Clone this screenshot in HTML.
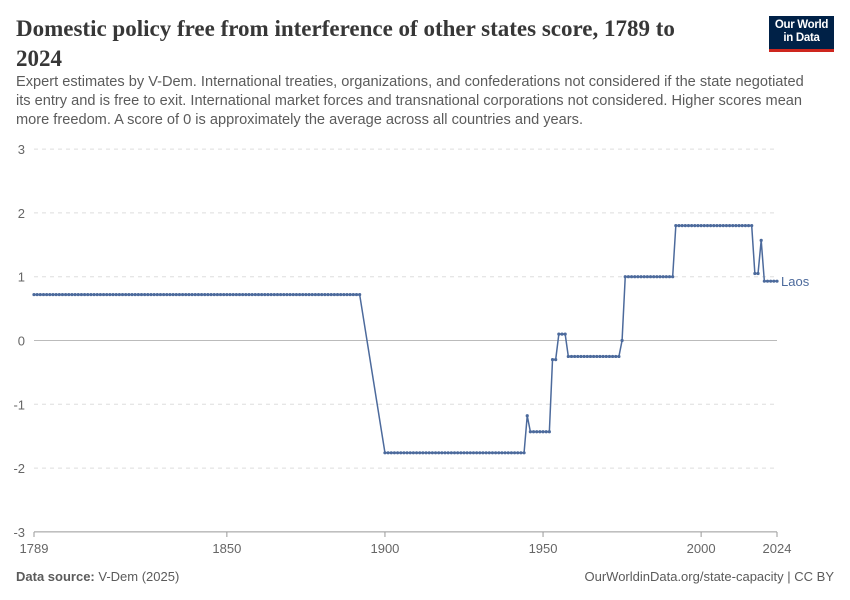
<!DOCTYPE html>
<html><head><meta charset="utf-8"><style>
body{margin:0;background:#fff;width:850px;height:600px;overflow:hidden;font-family:"Liberation Sans",sans-serif}
.t{position:absolute;left:16px;top:14px;font-family:"Liberation Serif",serif;font-weight:bold;font-size:23px;color:#373737;line-height:30px;width:700px}
.s{position:absolute;left:16px;top:73px;font-size:14.6px;color:#5b5b5b;line-height:19px;width:806px}
.logo{position:absolute;left:769px;top:16px;width:65px;height:36px;background:#002147;border-bottom:3px solid #ce261e;color:#fff;font-size:11.5px;font-weight:bold;text-align:center;line-height:13px;padding-top:3px;box-sizing:border-box;letter-spacing:-0.3px}
.f{position:absolute;top:569px;font-size:13px;color:#5b5b5b}
</style></head><body>
<div class="t">Domestic policy free from interference of other states score, 1789 to 2024</div>
<div class="s">Expert estimates by V-Dem. International treaties, organizations, and confederations not considered if the state negotiated its entry and is free to exit. International market forces and transnational corporations not considered. Higher scores mean more freedom. A score of 0 is approximately the average across all countries and years.</div>
<div class="logo">Our World<br>in Data</div>
<svg id="c" width="850" height="600" style="position:absolute;left:0;top:0"></svg>
<div class="f" style="left:16px"><b>Data source:</b> V-Dem (2025)</div>
<div class="f" style="right:16px">OurWorldinData.org/state-capacity | CC BY</div>
<script>
const yTicks=[3,2,1,0,-1,-2,-3];
const xTicks=[1789,1850,1900,1950,2000,2024];
const segYears=[[1789,1892],[1900,1944],[1945,1945],[1946,1952],[1953,1954],[1955,1957],[1958,1974],[1975,1975],[1976,1991],[1992,2016],[2017,2018],[2019,2019],[2020,2024]];
const segValues=[0.72,-1.76,-1.18,-1.43,-0.3,0.1,-0.25,0.0,1.0,1.8,1.05,1.57,0.93];
const seriesName="Laos";
const NS="http://www.w3.org/2000/svg",svg=document.getElementById('c');
const X=y=>34+(y-1789)*(777-34)/(2024-1789);
const Y=v=>340.5-v*63.8;
function mk(t,a){const e=document.createElementNS(NS,t);for(const k in a)e.setAttribute(k,a[k]);svg.appendChild(e);return e;}
yTicks.forEach(v=>{
 const l=mk('line',{x1:34,x2:777,y1:Y(v),y2:Y(v),stroke:v===0?'#bbb':(v===-3?'#999':'#ddd'),'stroke-dasharray':(v===0||v===-3)?'':'4,4','stroke-width':1});
 
 
 const t=mk('text',{x:25,y:Y(v)+5,'text-anchor':'end','font-size':13,fill:'#666'});t.textContent=v;
 
 
});
xTicks.forEach(y=>{
 const l=mk('line',{x1:X(y),x2:X(y),y1:532,y2:537,stroke:'#999'});
 
 
 const t=mk('text',{x:X(y),y:553,'text-anchor':'middle','font-size':13,fill:'#666'});t.textContent=y;
 
 
});
const pts=[];
segYears.forEach((s,i)=>{for(let y=s[0];y<=s[1];y++)pts.push([y,segValues[i]]);});
const line=mk('polyline',{points:pts.map(p=>X(p[0])+','+Y(p[1])).join(' '),fill:'none',stroke:'#4c6a9c','stroke-width':1.5});


pts.forEach(p=>{const c=mk('circle',{cx:X(p[0]),cy:Y(p[1]),r:1.6,fill:'#4c6a9c'});
 
 });
const last=pts[pts.length-1];
const lb=mk('text',{x:X(last[0])+4,y:Y(last[1])+5,'font-size':13,fill:'#4c6a9c'});lb.textContent=seriesName;


</script>
</body></html>
